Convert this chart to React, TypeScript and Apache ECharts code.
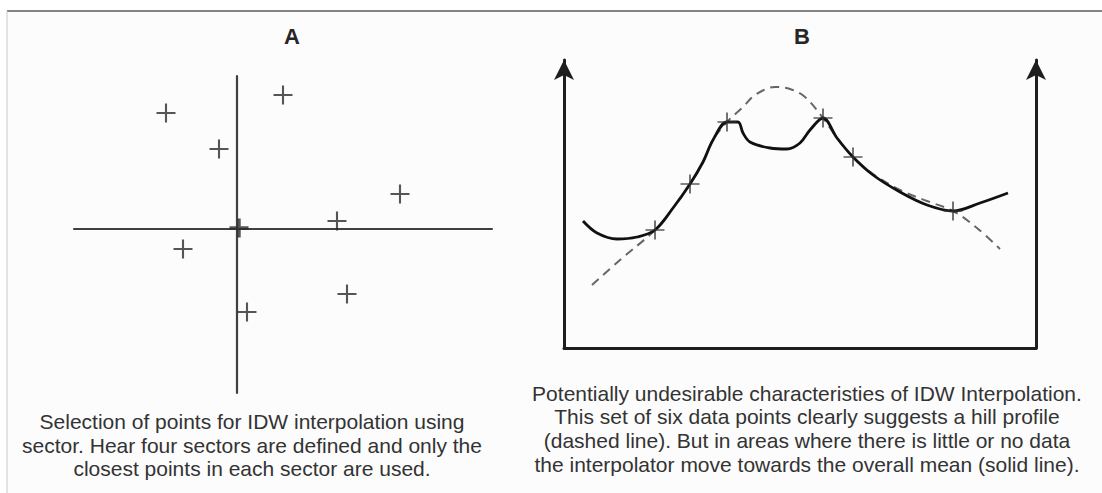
import React, { useEffect, useRef } from "react";
import * as echarts from "echarts";

// Panel A: scattered sample points around the search origin
const A_X = [-7.1, 4.6, -1.8, 16.3, 10.0, 0.2, -5.4, 11.0, 1.0];
const A_Y = [11.6, 13.4, 8.0, 3.5, 0.8, 0.1, -2.0, -6.5, -8.3];

// Panel B: solid (IDW) curve
const SOLID_X = [1.9, 3.3, 5.3, 7.3, 9.1, 10.9, 12.6, 13.9, 14.9, 16.3, 17.4, 17.9, 18.6, 20.6, 22.3, 23.6, 24.6, 25.9, 27.3, 28.9, 30.9, 33.6, 36.3, 38.9, 41.6, 44.4];
const SOLID_Y = [12.7, 11.5, 10.9, 11.1, 11.8, 14.0, 16.4, 18.6, 20.8, 22.6, 22.6, 21.5, 20.6, 20.0, 19.9, 20.5, 21.8, 23.0, 21.0, 19.1, 17.3, 15.6, 14.3, 13.7, 14.5, 15.5];

// Panel B: dashed (hill profile) curve
const DASH_X = [2.8, 5.6, 9.1, 10.9, 12.6, 13.9, 14.9, 16.3, 17.9, 19.1, 21.1, 22.6, 24.1, 25.9, 27.3, 28.9, 30.9, 33.6, 36.3, 38.9, 41.3, 43.6];
const DASH_Y = [6.3, 8.8, 11.8, 14.0, 16.4, 18.6, 20.8, 22.6, 24.1, 25.3, 26.1, 25.9, 25.1, 23.0, 21.0, 19.1, 17.4, 15.8, 14.7, 13.7, 12.0, 9.9];

// Panel B: six data points
const PTS_X = [9.1, 12.6, 16.3, 25.9, 28.9, 38.9];
const PTS_Y = [11.8, 16.4, 22.6, 23.0, 19.1, 13.7];

const TITLES = ["A", "B"];
const CAPTION_A = [
  "Selection of points for IDW interpolation using",
  "sector. Hear four sectors are defined and only the",
  "closest points in each sector are used.",
];
const CAPTION_B = [
  "Potentially undesirable characteristies of IDW Interpolation.",
  "This set of six data points clearly suggests a hill profile",
  "(dashed line). But in areas where there is little or no data",
  "the interpolator move towards the overall mean (solid line).",
];

const FONT = "'Liberation Sans', Arial, Helvetica, sans-serif";
const PLUS = "path://M10,0L10,20M0,10L20,10";

export default function App() {
  const ref = useRef<HTMLDivElement>(null);

  useEffect(() => {
    document.body.style.margin = "0";
    if (!ref.current) return;
    const chart = echarts.init(ref.current, null, { renderer: "svg" });

    const zip = (xs: number[], ys: number[]) => xs.map((x, i) => [x, ys[i]]);

    const hiddenAxisBits = {
      axisTick: { show: false },
      axisLabel: { show: false },
      splitLine: { show: false },
    };

    const option: any = {
      animation: false,
      backgroundColor: "#ffffff",
      grid: [
        { left: 74, top: 76, width: 418, height: 317 },
        { left: 564, top: 60, width: 472, height: 288 },
      ],
      xAxis: [
        {
          gridIndex: 0,
          type: "value",
          min: -16.3,
          max: 25.5,
          axisLine: { show: true, onZero: true, lineStyle: { color: "#404040", width: 2.2 } },
          ...hiddenAxisBits,
        },
        {
          gridIndex: 1,
          type: "value",
          min: 0,
          max: 47.2,
          axisLine: { show: true, onZero: false, lineStyle: { color: "#1e1e1e", width: 3 } },
          ...hiddenAxisBits,
        },
      ],
      yAxis: [
        {
          gridIndex: 0,
          type: "value",
          min: -16.4,
          max: 15.3,
          axisLine: { show: true, onZero: true, lineStyle: { color: "#404040", width: 2.2 } },
          ...hiddenAxisBits,
        },
        {
          gridIndex: 1,
          type: "value",
          position: "left",
          min: 0,
          max: 28.8,
          axisLine: {
            show: true,
            onZero: false,
            symbol: ["none", "arrow"],
            symbolSize: [15, 20],
            lineStyle: { color: "#1e1e1e", width: 3 },
          },
          ...hiddenAxisBits,
        },
        {
          gridIndex: 1,
          type: "value",
          position: "right",
          min: 0,
          max: 28.8,
          axisLine: {
            show: true,
            onZero: false,
            symbol: ["none", "arrow"],
            symbolSize: [15, 20],
            lineStyle: { color: "#1e1e1e", width: 3 },
          },
          ...hiddenAxisBits,
        },
      ],
      series: [
        {
          type: "scatter",
          xAxisIndex: 0,
          yAxisIndex: 0,
          symbol: PLUS,
          symbolSize: 19,
          itemStyle: { color: "#2a2a2a", borderColor: "#2a2a2a", borderWidth: 2.1 },
          data: A_X.map((x, i) => {
            const item: any = { value: [x, A_Y[i]] };
            if (Math.abs(x) < 0.5 && Math.abs(A_Y[i]) < 0.5) {
              item.itemStyle = { borderWidth: 3.4, borderColor: "#2a2a2a" };
            }
            return item;
          }),
          z: 5,
        },
        {
          type: "line",
          xAxisIndex: 1,
          yAxisIndex: 1,
          data: zip(DASH_X, DASH_Y),
          smooth: 0.35,
          showSymbol: false,
          lineStyle: { color: "#666", width: 2, type: [9, 6] },
          z: 2,
        },
        {
          type: "line",
          xAxisIndex: 1,
          yAxisIndex: 1,
          data: zip(SOLID_X, SOLID_Y),
          smooth: 0.35,
          showSymbol: false,
          lineStyle: { color: "#111", width: 2.8 },
          z: 3,
        },
        {
          type: "scatter",
          xAxisIndex: 1,
          yAxisIndex: 1,
          symbol: PLUS,
          symbolSize: 19,
          itemStyle: { color: "#333", borderColor: "#333", borderWidth: 1.7 },
          data: zip(PTS_X, PTS_Y),
          z: 4,
        },
      ],
      graphic: [
        {
          type: "rect",
          z: -10,
          shape: { x: 7, y: 11, width: 1095, height: 482 },
          style: { fill: "#fcfcfc" },
          silent: true,
        },
        {
          type: "line",
          shape: { x1: 7, y1: 11, x2: 1102, y2: 11 },
          style: { stroke: "#5a5a5a", lineWidth: 1.5 },
          silent: true,
        },
        {
          type: "line",
          shape: { x1: 7, y1: 11, x2: 7, y2: 493 },
          style: { stroke: "#c8c8c8", lineWidth: 1 },
          silent: true,
        },
        {
          type: "text",
          x: 292,
          y: 36,
          style: {
            text: TITLES[0],
            font: `bold 22px ${FONT}`,
            fill: "#262626",
            textAlign: "center",
            textVerticalAlign: "middle",
          },
        },
        {
          type: "text",
          x: 802,
          y: 36,
          style: {
            text: TITLES[1],
            font: `bold 22px ${FONT}`,
            fill: "#262626",
            textAlign: "center",
            textVerticalAlign: "middle",
          },
        },
        {
          type: "text",
          x: 252,
          y: 410,
          style: {
            text: CAPTION_A.join("\n"),
            font: `21px ${FONT}`,
            lineHeight: 23.4,
            fill: "#333",
            textAlign: "center",
            textVerticalAlign: "top",
          },
        },
        {
          type: "text",
          x: 807,
          y: 381.5,
          style: {
            text: CAPTION_B.join("\n"),
            font: `21px ${FONT}`,
            lineHeight: 23.6,
            fill: "#333",
            textAlign: "center",
            textVerticalAlign: "top",
          },
        },
      ],
    };

    chart.setOption(option);
    return () => chart.dispose();
  }, []);

  return (
    <div
      ref={ref}
      style={{ position: "absolute", left: 0, top: 0, width: 1102, height: 493 }}
    />
  );
}
